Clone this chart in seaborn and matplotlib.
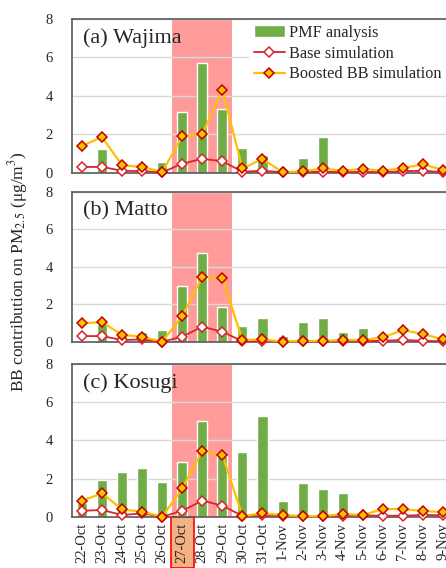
import numpy as np
import pandas as pd
import matplotlib
matplotlib.use('Agg')
import matplotlib.pyplot as plt
import seaborn as sns

# ── Dữ liệu ──
dates = ['22-Oct', '23-Oct', '24-Oct', '25-Oct', '26-Oct', '27-Oct', '28-Oct',
         '29-Oct', '30-Oct', '31-Oct', '1-Nov', '2-Nov', '3-Nov', '4-Nov',
         '5-Nov', '6-Nov', '7-Nov', '8-Nov', '9-Nov']

sites = ['(a) Wajima', '(b) Matto', '(c) Kosugi']

wajima_pmf = [0, 1.25, 0, 0.45, 0.56, 3.15, 5.7, 3.3, 1.3, 0.9,
              0, 0.75, 1.88, 0.15, 0, 0, 0, 0, 0]
wajima_base = [0.3, 0.3, 0.1, 0.08, 0.02, 0.47, 0.72, 0.6, 0.05, 0.1,
               0.03, 0.03, 0.05, 0.03, 0.04, 0.03, 0.08, 0.1, 0.03]
wajima_boost = [1.4, 1.85, 0.38, 0.3, 0.04, 1.9, 2.02, 4.3, 0.22, 0.72,
                0.03, 0.07, 0.22, 0.1, 0.2, 0.1, 0.24, 0.43, 0.15]

matto_pmf = [0, 0.95, 0.45, 0.53, 0.62, 3.0, 4.72, 1.84, 0.86, 1.25,
             0.3, 1.07, 1.25, 0.5, 0.71, 0, 0, 0, 0]
matto_base = [0.3, 0.3, 0.09, 0.12, 0.0, 0.27, 0.8, 0.53, 0.03, 0.03,
              0.02, 0.02, 0.02, 0.03, 0.03, 0.05, 0.09, 0.05, 0.02]
matto_boost = [0.98, 1.05, 0.36, 0.27, 0.0, 1.37, 3.47, 3.39, 0.09, 0.12,
               0.01, 0.04, 0.04, 0.09, 0.09, 0.23, 0.62, 0.41, 0.12]

kosugi_pmf = [0.7, 1.92, 2.36, 2.53, 1.83, 2.84, 5.0, 3.2, 3.37, 5.3,
              0.82, 1.78, 1.45, 1.22, 0, 0, 0, 0, 0]
kosugi_base = [0.31, 0.35, 0.09, 0.17, 0.0, 0.31, 0.84, 0.58, 0.04, 0.08,
               0.05, 0.03, 0.03, 0.05, 0.07, 0.05, 0.05, 0.09, 0.07]
kosugi_boost = [0.84, 1.22, 0.38, 0.26, 0.0, 1.48, 3.46, 3.23, 0.04, 0.17,
                0.09, 0.03, 0.03, 0.14, 0.09, 0.4, 0.4, 0.3, 0.24]

pmf_all = [wajima_pmf, matto_pmf, kosugi_pmf]
base_all = [wajima_base, matto_base, kosugi_base]
boost_all = [wajima_boost, matto_boost, kosugi_boost]

# giai đoạn đốt sinh khối (27-29 Oct)
event_start, event_end = '27-Oct', '29-Oct'
highlight_label = '27-Oct'

# ── Style ──
sns.set_style('white')
plt.rcParams['font.family'] = ['Liberation Serif', 'DejaVu Serif']
plt.rcParams['mathtext.fontset'] = 'stix'

GREEN = '#70AD47'
PINK = '#FF9B9B'
RED = '#D7262E'
DARKRED = '#C00000'
GOLD = '#FFC000'
SPINE = '#595959'

fig = plt.figure(figsize=(4.46, 5.68), dpi=100)
W, H = 446, 568
boxes = [(19, 172.7), (192, 341.7), (364, 516.7)]
left_px, right_px = 72, 453

axes = []
for i, (top, bot) in enumerate(boxes):
    ax = fig.add_axes([left_px / W, 1 - bot / H, (right_px - left_px) / W, (bot - top) / H])
    axes.append(ax)
    df = pd.DataFrame({'date': dates, 'pmf': pmf_all[i],
                       'base': base_all[i], 'boost': boost_all[i]})

    i0, i1 = dates.index(event_start), dates.index(event_end)
    ax.axvspan(i0 - 0.5, i1 + 0.5, color=PINK, lw=0, zorder=0)

    sns.barplot(data=df, x='date', y='pmf', color=GREEN, saturation=1,
                width=0.5, ax=ax, label='PMF analysis', zorder=2)
    sns.lineplot(data=df, x='date', y='base', color=RED, lw=1.3, marker='D',
                 markersize=5.5, markerfacecolor='white', markeredgecolor=RED,
                 markeredgewidth=1.1, ax=ax, label='Base simulation',
                 sort=False, clip_on=False, zorder=3)
    sns.lineplot(data=df, x='date', y='boost', color=GOLD, lw=1.6, marker='D',
                 markersize=5.5, markerfacecolor=GOLD, markeredgecolor=DARKRED,
                 markeredgewidth=1.1, ax=ax, label='Boosted BB simulation',
                 sort=False, clip_on=False, zorder=4)

    ax.set_xlim(-0.5, len(dates) - 0.5)
    ax.set_ylim(0, 8)
    ax.set_yticks([0, 2, 4, 6, 8])
    ax.yaxis.grid(True, color='#D9D9D9', lw=1.0, zorder=1)
    ax.set_axisbelow(True)
    for s in ax.spines.values():
        s.set_color(SPINE)
        s.set_linewidth(1.2)
    ax.set_xlabel('')
    ax.set_ylabel('')
    ax.tick_params(axis='y', length=0, pad=14, labelsize=10.5)
    ax.text(0.03, 0.94, sites[i], transform=ax.transAxes, ha='left', va='top',
            fontsize=16, zorder=5)

    if i < 2:
        ax.tick_params(axis='x', length=0, labelbottom=False)
    else:
        ax.tick_params(axis='x', length=0, pad=4, labelsize=10.5, rotation=90)
        ax.set_xticks(np.arange(len(dates) + 1) - 0.5, minor=True)
        ax.tick_params(axis='x', which='minor', length=4, color=SPINE, width=1)
        for lab in ax.get_xticklabels():
            if lab.get_text() == highlight_label:
                lab.set_bbox(dict(boxstyle='square,pad=0.35', facecolor='#F4B183',
                                  edgecolor='red', lw=1.2))
    if ax.get_legend():
        ax.get_legend().remove()

# ── Chú thích ──
ax0 = axes[0]
handles, labels = ax0.get_legend_handles_labels()
order = ['PMF analysis', 'Base simulation', 'Boosted BB simulation']
hmap = dict(zip(labels, handles))
ax0.legend([hmap[k] for k in order], order, loc='upper left',
           bbox_to_anchor=(0.465, 0.995), borderaxespad=0, borderpad=0.3,
           fontsize=11.7, handlelength=1.9, handletextpad=0.25,
           labelspacing=0.3, frameon=True, facecolor='white',
           edgecolor='none', framealpha=1, fancybox=False)

fig.text(18 / W, 1 - 272 / H, 'BB contribution on PM$_{2.5}$ (μg/m$^3$)',
         rotation=90, ha='center', va='center', fontsize=12.5)

fig.savefig('out.png', dpi=100)
